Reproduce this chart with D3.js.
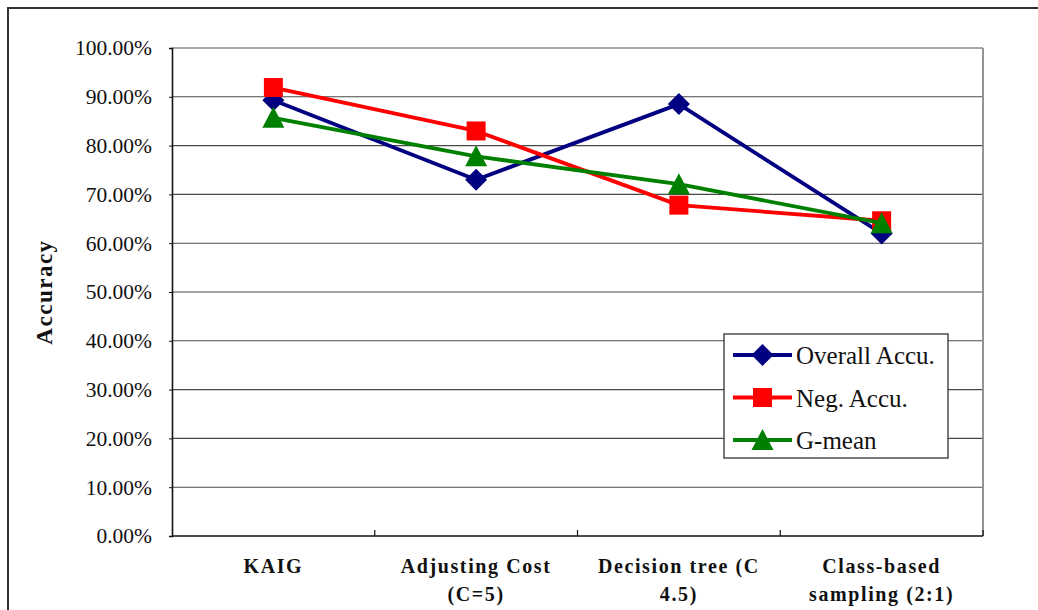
<!DOCTYPE html>
<html>
<head>
<meta charset="utf-8">
<script src="https://cdn.jsdelivr.net/npm/d3@7"></script>
<style>
  body { margin: 0; background: #fff; }
  svg, svg text { font-family: "Liberation Serif", "Times New Roman", "DejaVu Serif", serif; }
</style>
</head>
<body>
<svg id="chart" width="1038" height="610"></svg>
<script>
// chart values
const categories = ['KAIG', 'Adjusting Cost (C=5)', 'Decision tree (C 4.5)', 'Class-based sampling (2:1)']
const categoryLines = [['KAIG'], ['Adjusting Cost', '(C=5)'], ['Decision tree (C', '4.5)'], ['Class-based', 'sampling (2:1)']]
const overallAccu = [0.893, 0.730, 0.885, 0.620]
const negAccu = [0.919, 0.830, 0.678, 0.646]
const gMean = [0.857, 0.778, 0.721, 0.641]
const seriesNames = ['Overall Accu.', 'Neg. Accu.', 'G-mean']
const yTicks = [0, 0.1, 0.2, 0.3, 0.4, 0.5, 0.6, 0.7, 0.8, 0.9, 1.0]

const series = [
  { name: seriesNames[0], values: overallAccu, color: '#000080', marker: 'diamond' },
  { name: seriesNames[1], values: negAccu, color: '#ff0000', marker: 'square' },
  { name: seriesNames[2], values: gMean, color: '#008000', marker: 'triangle' },
]

const SERIF = '"Liberation Serif", "Times New Roman", serif'
const plot = { left: 172, right: 983, top: 48, bottom: 536 }
const svg = d3.select('#chart')

// outer chart frame (bottom/right edges run off the picture)
svg.append('rect')
  .attr('x', 8).attr('y', 8)
  .attr('width', 1060).attr('height', 640)
  .attr('fill', '#fff')
  .attr('stroke', '#333')
  .attr('stroke-width', 2)

const x = d3.scaleBand().domain(categories).range([plot.left, plot.right]).padding(0)
const y = d3.scaleLinear().domain([0, 1]).range([plot.bottom, plot.top])
const cx = (c) => x(c) + x.bandwidth() / 2

// gridlines
svg.append('g')
  .selectAll('line')
  .data(yTicks.filter((t) => t > 0))
  .join('line')
  .attr('x1', plot.left).attr('x2', plot.right)
  .attr('y1', (d) => y(d)).attr('y2', (d) => y(d))
  .attr('stroke', (d) => (d === 1 ? '#8a8a8a' : '#4a4a4a'))
  .attr('stroke-width', (d) => (d === 1 ? 1.6 : 1.1))

// right border of plot area
svg.append('line')
  .attr('x1', plot.right).attr('x2', plot.right)
  .attr('y1', plot.top).attr('y2', plot.bottom)
  .attr('stroke', '#8a8a8a').attr('stroke-width', 1.8)

// y axis
const yAxis = svg.append('g')
  .attr('transform', `translate(${plot.left},0)`)
  .call(d3.axisLeft(y).tickValues(yTicks).tickFormat(d3.format('.2%')).tickSize(3).tickPadding(17))
  .attr('font-family', null)
  .attr('font-size', null)
yAxis.select('.domain').attr('stroke', '#111').attr('stroke-width', 1.6)
yAxis.selectAll('.tick line').attr('stroke', '#111')
yAxis.selectAll('.tick text')
  .style('font-family', SERIF)
  .style('font-size', '21.5px')
  .attr('fill', '#111')

// x axis: ticks between categories, pointing inward
const xBounds = categories.map((c) => x(c)).concat([plot.right])
svg.append('line')
  .attr('x1', plot.left).attr('x2', plot.right)
  .attr('y1', plot.bottom).attr('y2', plot.bottom)
  .attr('stroke', '#111').attr('stroke-width', 1.6)
svg.append('g')
  .selectAll('line')
  .data(xBounds.slice(1))
  .join('line')
  .attr('x1', (d) => d).attr('x2', (d) => d)
  .attr('y1', plot.bottom).attr('y2', plot.bottom - 6)
  .attr('stroke', '#111').attr('stroke-width', 1.2)

// category labels
const catLabel = svg.append('g')
  .selectAll('text')
  .data(categories)
  .join('text')
  .attr('x', (d) => cx(d))
  .attr('y', 573)
  .attr('text-anchor', 'middle')
  .style('font-family', SERIF)
  .style('font-weight', 'bold')
  .style('font-size', '20px')
  .style('letter-spacing', '1.6px')
  .attr('fill', '#111')
catLabel.each(function (d, i) {
  d3.select(this).selectAll('tspan')
    .data(categoryLines[i])
    .join('tspan')
    .attr('x', cx(d))
    .attr('dy', (t, j) => (j === 0 ? 0 : 28))
    .text((t) => t)
})

// y axis title
svg.append('text')
  .attr('transform', 'translate(52,292) rotate(-90)')
  .attr('text-anchor', 'middle')
  .style('font-family', SERIF)
  .style('font-weight', 'bold')
  .style('font-size', '23px')
  .style('letter-spacing', '1.5px')
  .attr('fill', '#111')
  .text('Accuracy')

// marker shapes
function markerPath(type) {
  if (type === 'diamond') return 'M0,-11L11,0L0,11L-11,0Z'
  if (type === 'square') return 'M-9.5,-9.5H9.5V9.5H-9.5Z'
  return 'M0,-11L11,10L-11,10Z'
}

const line = d3.line()
  .x((d, i) => cx(categories[i]))
  .y((d) => y(d))

const seriesG = svg.append('g')
  .selectAll('g')
  .data(series)
  .join('g')

seriesG.append('path')
  .attr('d', (s) => line(s.values))
  .attr('fill', 'none')
  .attr('stroke', (s) => s.color)
  .attr('stroke-width', 3.8)
  .attr('stroke-linejoin', 'round')

seriesG.selectAll('path.marker')
  .data((s) => s.values.map((v, i) => ({ v, i, s })))
  .join('path')
  .attr('class', 'marker')
  .attr('transform', (d) => `translate(${cx(categories[d.i])},${y(d.v)})`)
  .attr('d', (d) => markerPath(d.s.marker))
  .attr('fill', (d) => d.s.color)

// legend
const legend = svg.append('g').attr('transform', 'translate(724,334)')
legend.append('rect')
  .attr('width', 224).attr('height', 124)
  .attr('fill', '#fff')
  .attr('stroke', '#222').attr('stroke-width', 1.2)

const legendRow = legend.selectAll('g.row')
  .data(series)
  .join('g')
  .attr('class', 'row')
  .attr('transform', (d, i) => `translate(0,${21 + i * 42.5})`)

legendRow.append('line')
  .attr('x1', 9).attr('x2', 68)
  .attr('stroke', (d) => d.color)
  .attr('stroke-width', 3.8)
legendRow.append('path')
  .attr('transform', 'translate(38.5,0)')
  .attr('d', (d) => markerPath(d.marker))
  .attr('fill', (d) => d.color)
legendRow.append('text')
  .attr('x', 72)
  .attr('y', 9)
  .style('font-family', SERIF)
  .style('font-size', '25px')
  .attr('fill', '#111')
  .text((d) => d.name)
</script>
</body>
</html>
